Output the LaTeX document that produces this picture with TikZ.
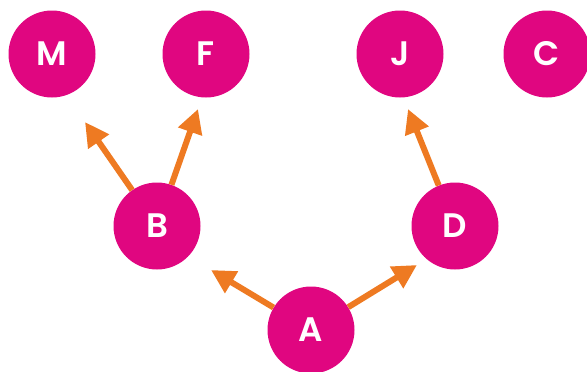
\documentclass[tikz,border=0pt]{standalone}
\usepackage{fontspec}
\setmainfont{Poppins}[BoldFont={Poppins SemiBold}]
\usetikzlibrary{arrows.meta}
\definecolor{dotpink}{RGB}{224,6,128}
\definecolor{arroworange}{RGB}{238,122,34}
\begin{document}
\begin{tikzpicture}[x=1pt,y=-1pt,
  person/.style={circle,fill=dotpink,draw=none,minimum size=87pt,inner sep=0pt,
    text=white,font=\fontsize{34}{34}\selectfont\bfseries},
  link/.style={draw=arroworange,line width=6pt,
    -{Triangle[length=24pt,width=24pt]}}]
\useasboundingbox (0,0) rectangle (587,372);
% family members
\node[person] (M) at (52,54) {M};
\node[person] (F) at (206,54) {F};
\node[person] (J) at (400,54) {J};
\node[person] (C) at (547,54) {C};
\node[person] (B) at (157,226) {B};
\node[person] (D) at (455,226) {D};
\node[person] (A) at (311,330) {A};
% where each arrow stops
\coordinate (toM) at (85,122);
\coordinate (toF) at (198,109);
\coordinate (toJ) at (408,109);
\coordinate (toB) at (211,270);
\coordinate (toD) at (417,265);
% arrows
\draw[link] (B) -- (toM);
\draw[link] (B) -- (toF);
\draw[link] (D) -- (toJ);
\draw[link] (A) -- (toB);
\draw[link] (A) -- (toD);
\end{tikzpicture}
\end{document}
